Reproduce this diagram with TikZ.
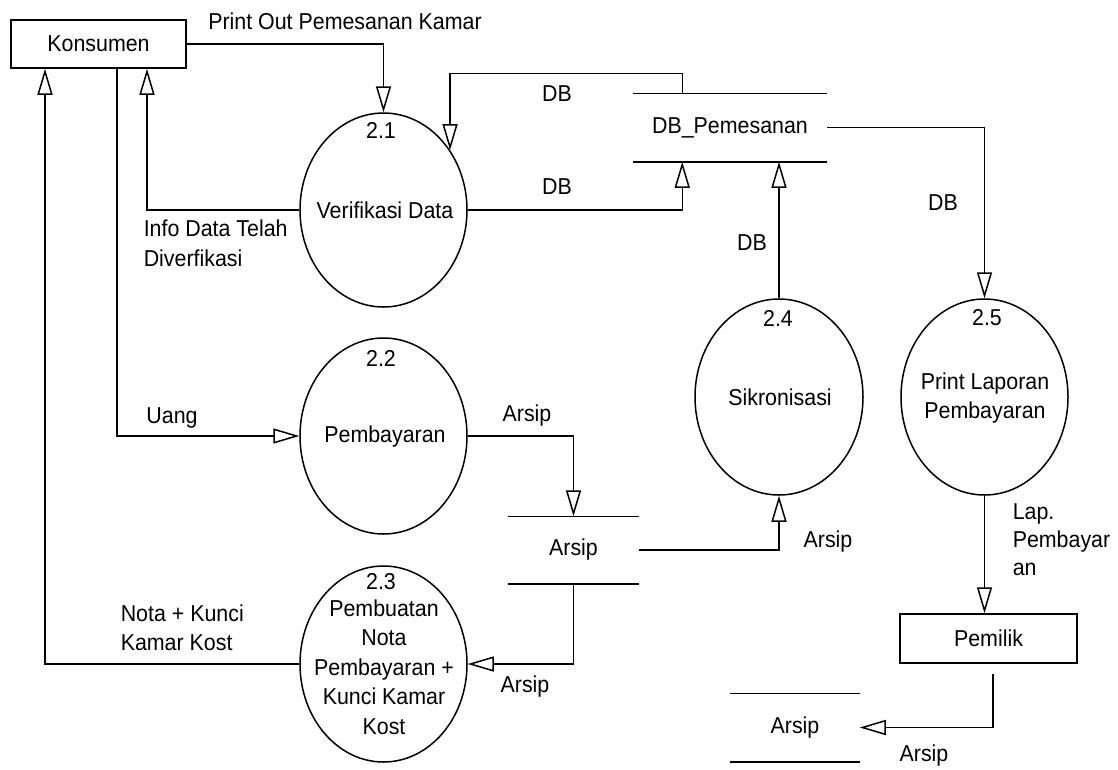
\documentclass[tikz,border=0pt]{standalone}
\usepackage{fontspec}
\setmainfont{Liberation Sans}[FakeStretch=0.93]
\usetikzlibrary{arrows.meta,shapes.geometric}
\begin{document}
\begin{tikzpicture}[x=1pt,y=-1pt,line width=1.5pt,
  every node/.style={font=\fontsize{23}{29.5}\selectfont, inner sep=0pt},
  proc/.style={draw, ellipse, minimum width=167pt, minimum height=196pt},
  ent/.style={draw, rectangle},
  store/.style={rectangle},
  arr/.style={-{Triangle[open,length=26pt,width=15pt]}}]
\useasboundingbox (0,0) rectangle (1118,769);
% entities
\node[ent, minimum width=175pt, minimum height=48pt] (kon) at (98.5,44) {Konsumen};
\node[ent, minimum width=177pt, minimum height=49pt] (pem) at (988.5,638.5) {Pemilik};
% processes
\node[proc, minimum height=194pt] (p21) at (383.5,210) {};
\node[proc] (p22) at (383.5,436) {};
\node[proc] (p23) at (383.5,664) {};
\node[proc, minimum width=168pt] (p24) at (779,397) {};
\node[proc] (p25) at (984.5,397) {};
% stores
\node[store, minimum width=192pt, minimum height=67pt] (db) at (730,127.5) {DB\_Pemesanan};
\node[store, minimum width=129pt, minimum height=66pt] (ar1) at (573.5,550) {Arsip};
\node[store, minimum width=128pt, minimum height=67pt] (ar2) at (795,727.5) {Arsip};
\foreach \s in {db,ar1,ar2}
  \draw (\s.north west) -- (\s.north east) (\s.south west) -- (\s.south east);
% process texts
\node (t21n) at (381,130) {2.1};
\node (t21) at (385,210) {Verifikasi Data};
\node (t22n) at (381,358) {2.2};
\node (t22) at (385,437) {Pembayaran};
\node (t23n) at (381,582) {2.3};
\node[align=center] (t23) at (384,667) {Pembuatan\\Nota\\Pembayaran +\\Kunci Kamar\\Kost};
\node (t24n) at (778,318) {2.4};
\node (t24) at (780,397) {Sikronisasi};
\node (t25n) at (987,318) {2.5};
\node[align=center] (t25) at (985,398) {Print Laporan\\Pembayaran};
% connectors
\draw[arr] (kon.east) -| (p21.north);
\draw[arr] ([xshift=49pt]db.north west) -- ++(0,-20) -| (p21.42.5);
\draw[arr] (p21.east) -| ([xshift=49pt]db.south west);
\draw[arr] (p24.north) -- (p24.north |- db.south);
\draw[arr] (db.east) -| (p25.north);
\draw[arr] (p21.west) -| ([xshift=48.5pt]kon.south);
\draw[arr] ([xshift=18.5pt]kon.south) |- (p22.west);
\draw[arr] (p23.west) -| ([xshift=-53.5pt]kon.south);
\draw[arr] (p22.east) -| (ar1.north);
\draw[arr] (ar1.east) -| (p24.south);
\draw[arr] (ar1.south) |- (p23.east);
\draw[arr] (p25.south) -- (p25.south |- pem.north);
\draw[arr] ([xshift=4.5pt,yshift=-10pt]pem.south) |- (ar2.east);
% flow labels
\node (l1) at (345,21) {Print Out Pemesanan Kamar};
\node (l2) at (557,94) {DB};
\node (l3) at (557,187) {DB};
\node (l4) at (752,243) {DB};
\node (l5) at (943,203) {DB};
\node[align=left, anchor=west] (l6) at (143,243.5) {Info Data Telah\\Diverfikasi};
\node (l7) at (172,418) {Uang};
\node (l8) at (527,416) {Arsip};
\node (l9) at (828,542) {Arsip};
\node (l10) at (525,687) {Arsip};
\node (l11) at (924,756) {Arsip};
\node[align=left, anchor=west] (l12) at (120,628) {Nota + Kunci\\Kamar Kost};
\node[align=left, anchor=west, font=\fontsize{23}{28}\selectfont] (l13) at (1012,540) {Lap.\\Pembayar\\an};
\end{tikzpicture}
\end{document}
